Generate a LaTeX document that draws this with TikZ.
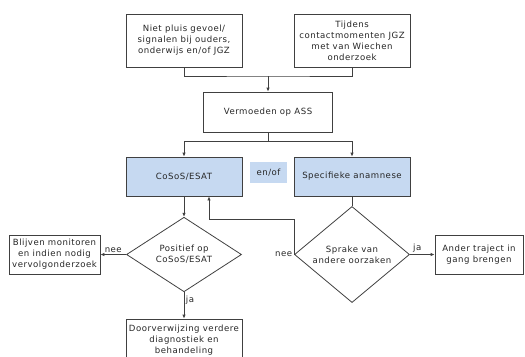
\documentclass[tikz,border=0pt]{standalone}
\usepackage{fontspec}
\setmainfont[LetterSpace=6]{DejaVu Sans}
\usetikzlibrary{shapes.geometric,arrows.meta}
\definecolor{boxblue}{RGB}{198,217,241}

\begin{document}
\begin{tikzpicture}[x=1bp,y=-1bp,
    every node/.style={font=\fontsize{8.6}{11}\selectfont, text=black!85},
    box/.style={draw=black!75, line width=0.8bp, align=center, inner sep=0pt},
    bluebox/.style={box, fill=boxblue},
    keuze/.style={diamond, draw=black!75, line width=0.8bp, align=center, inner sep=0pt, minimum width=115bp, minimum height=65bp},
    line/.style={draw=black!75, line width=0.8bp},
    arrow/.style={line, -{Latex[length=4bp,width=3.5bp]}},
    lbl/.style={inner sep=1.5bp}]
  \useasboundingbox (0,0) rectangle (525,356);
  \node[box, minimum width=116bp, minimum height=53bp] (sig) at (184,40.5) {Niet pluis gevoel/\\signalen bij ouders,\\onderwijs en/of JGZ};
  \node[box, minimum width=116bp, minimum height=53bp] (tijd) at (352,40.5) {Tijdens\\contactmomenten JGZ\\met van Wiechen\\onderzoek};
  \node[box, minimum width=129bp, minimum height=40bp] (verm) at (268,112) {Vermoeden op ASS};
  \node[bluebox, minimum width=116bp, minimum height=39bp] (cosos) at (184,176.5) {CoSoS/ESAT};
  \node[bluebox, minimum width=116bp, minimum height=39bp] (spec) at (352,176.5) {Specifieke anamnese};
  \node[fill=boxblue, minimum width=37bp, minimum height=21bp, inner sep=0pt] (enof) at (268.5,172.5) {en/of};
  \node[keuze] (pos) at (184,254.5) {Positief op\\CoSoS/ESAT};
  \node[keuze] (sprake) at (352,254.5) {Sprake van\\andere oorzaken};
  \node[box, minimum width=91bp, minimum height=39bp] (blijv) at (54.5,254.5) {Blijven monitoren\\en indien nodig\\vervolgonderzoek};
  \node[box, minimum width=88bp, minimum height=39bp] (ander) at (479,254.5) {Ander traject in\\gang brengen};
  \node[box, minimum width=116bp, minimum height=42bp] (door) at (184,340) {Doorverwijzing verdere\\diagnostiek en\\behandeling};

  \coordinate (samen) at (268,76);
  \coordinate (splits) at (268,141);
  \coordinate (terug) at (209,219);
  \draw[line] (sig.south) |- (samen) -| (tijd.south);
  \draw[arrow] (samen) -- (verm.north);
  \draw[line] (verm.south) -- (splits);
  \draw[arrow] (splits) -| (cosos.north);
  \draw[arrow] (splits) -| (spec.north);
  \draw[arrow] (cosos.south) -- (pos.north);
  \draw[line] (spec.south) -- (sprake.north);
  \draw[arrow] (pos.west) -- node[lbl, above] {nee} (blijv.east);
  \draw[arrow] (pos.south) -- node[lbl, right, pos=0.3] {ja} (door.north);
  \draw[arrow] (sprake.west) node[lbl, left] {nee} |- (terug) -- (terug |- cosos.south);
  \draw[arrow] (sprake.east) -- node[lbl, above, pos=0.3] {ja} (ander.west);
\end{tikzpicture}
\end{document}
